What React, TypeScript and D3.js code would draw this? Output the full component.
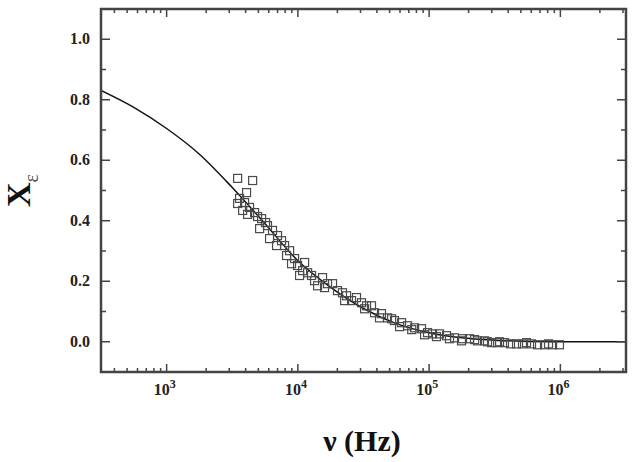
import React from 'react';
import * as d3 from 'd3';

// Measured points: frequency (Hz) and susceptibility
const FREQ = [
  3475, 4520, 4065, 3595, 3475, 3925, 4285, 4680, 4930, 5290, 5110, 5870, 6410, 7000, 6880,
  7920, 8650, 8200, 8950, 9950, 10870, 11860, 12710, 13400, 15420, 16830, 18370, 20050, 23500,
  25640, 30560, 33350, 38370, 43370, 48170, 54470, 61660, 68440, 77450, 87520, 97250, 106200,
  120000, 135800, 156100, 179600, 203100, 233800, 264300, 298800, 332100, 375300, 417000,
  463500, 514600, 602900, 669800, 757300, 871600, 984000,
  3795, 4140, 5670, 6085, 7510, 9440, 11250, 10300, 14130, 15970, 21870, 27980, 22710, 32230,
  36390, 41870, 51760, 59580, 73700, 92300, 113800, 143000, 176500, 221900, 278500, 343800,
  552000, 812000,
];
const CHI = [
  0.54, 0.533, 0.493, 0.474, 0.457, 0.46, 0.444, 0.427, 0.414, 0.407, 0.374, 0.384, 0.368, 0.351,
  0.318, 0.318, 0.301, 0.285, 0.258, 0.252, 0.235, 0.228, 0.219, 0.202, 0.212, 0.192, 0.192,
  0.169, 0.152, 0.136, 0.129, 0.119, 0.096, 0.093, 0.079, 0.07, 0.063, 0.053, 0.046, 0.043,
  0.03, 0.026, 0.026, 0.02, 0.013, 0.01, 0.01, 0.003, 0.003, -0.003, -0.003, -0.003, -0.007,
  -0.007, -0.007, -0.007, -0.01, -0.01, -0.01, -0.01,
  0.434, 0.421, 0.394, 0.341, 0.334, 0.275, 0.262, 0.219, 0.185, 0.179, 0.162, 0.146, 0.136,
  0.109, 0.119, 0.079, 0.076, 0.05, 0.04, 0.023, 0.017, 0.01, 0.003, 0.007, 0.0, 0.0,
  -0.003, -0.007,
];

// Fitted curve, sampled every quarter decade
const FIT_FREQ = [316, 562, 1000, 1778, 3162, 5623, 10000, 17783, 31623, 56234, 100000, 177828, 316228, 562341, 1000000, 3162278];
const FIT_CHI = [0.831, 0.775, 0.705, 0.62, 0.51, 0.39, 0.268, 0.18, 0.11, 0.06, 0.03, 0.013, 0.005, 0.001, 0, 0];

const Y_LABELS = [0, 0.2, 0.4, 0.6, 0.8, 1.0];
const Y_MINOR = [-0.1, 0.1, 0.3, 0.5, 0.7, 0.9, 1.1];
const X_EXPONENTS = [3, 4, 5, 6];

const W = 643;
const H = 462;
const margin = { left: 101, right: 17, top: 9, bottom: 90 };
const FONT = "'Liberation Serif', 'Times New Roman', serif";

export default function App() {
  const x = d3.scaleLog().domain([Math.pow(10, 2.5), Math.pow(10, 6.5)]).range([margin.left, W - margin.right]);
  const y = d3.scaleLinear().domain([-0.1, 1.1]).range([H - margin.bottom, margin.top]);
  const [x0, x1] = x.range();
  const [yb, yt] = y.range();

  const majorX = X_EXPONENTS.map((e) => Math.pow(10, e));
  const minorX: number[] = [];
  for (let e = 2; e <= 6; e++) {
    for (let m = 2; m <= 9; m++) {
      const v = m * Math.pow(10, e);
      if (v > x.domain()[0] && v < x.domain()[1]) minorX.push(v);
    }
  }

  const line = d3
    .line<number>()
    .x((_, i) => x(FIT_FREQ[i]))
    .y((d) => y(d))
    .curve(d3.curveMonotoneX);

  const axisColor = '#444';

  return (
    <svg width={W} height={H} style={{ position: 'absolute', left: 0, top: 0, background: '#fff' }}>
      <defs>
        <clipPath id="plot">
          <rect x={x0} y={yt} width={x1 - x0} height={yb - yt} />
        </clipPath>
      </defs>

      {/* fit line */}
      <path d={line(FIT_CHI) || ''} fill="none" stroke="#111" strokeWidth={1.5} clipPath="url(#plot)" />

      {/* data squares */}
      <g fill="none" stroke="#4a4a4a" strokeWidth={1.2}>
        {FREQ.map((f, i) => (
          <rect key={i} x={x(f) - 4} y={y(CHI[i]) - 4} width={8} height={8} />
        ))}
      </g>

      {/* ticks on all four sides, pointing inward */}
      <g stroke={axisColor} strokeWidth={1.5}>
        {Y_LABELS.map((v) => (
          <g key={'ym' + v}>
            <line x1={x0} x2={x0 + 9} y1={y(v)} y2={y(v)} />
            <line x1={x1} x2={x1 - 9} y1={y(v)} y2={y(v)} />
          </g>
        ))}
        {Y_MINOR.map((v) => (
          <g key={'yn' + v}>
            <line x1={x0} x2={x0 + 5} y1={y(v)} y2={y(v)} />
            <line x1={x1} x2={x1 - 5} y1={y(v)} y2={y(v)} />
          </g>
        ))}
        {majorX.map((v) => (
          <g key={'xm' + v}>
            <line x1={x(v)} x2={x(v)} y1={yb} y2={yb - 8} />
            <line x1={x(v)} x2={x(v)} y1={yt} y2={yt + 8} />
          </g>
        ))}
        {minorX.map((v) => (
          <g key={'xn' + v}>
            <line x1={x(v)} x2={x(v)} y1={yb} y2={yb - 4} />
            <line x1={x(v)} x2={x(v)} y1={yt} y2={yt + 4} />
          </g>
        ))}
      </g>

      {/* frame */}
      <rect x={x0} y={yt} width={x1 - x0} height={yb - yt} fill="none" stroke={axisColor} strokeWidth={2.5} />

      {/* y tick labels */}
      <g fontFamily={FONT} fontWeight="bold" fontSize={16} fill="#222" textAnchor="end">
        {Y_LABELS.map((v) => (
          <text key={v} x={x0 - 11} y={y(v) + 5}>
            {d3.format('.1f')(v)}
          </text>
        ))}
      </g>

      {/* x tick labels */}
      <g fontFamily={FONT} fontWeight="bold" fontSize={16} fill="#222">
        {X_EXPONENTS.map((e) => (
          <text key={e} x={x(Math.pow(10, e)) - 13} y={yb + 23}>
            10
            <tspan fontSize={12} dy={-7}>
              {e}
            </tspan>
          </text>
        ))}
      </g>

      {/* axis titles */}
      <text x={362} y={451} textAnchor="middle" fontFamily={FONT} fontWeight="bold" fontSize={30} fill="#111">
        ν (Hz)
      </text>
      <text
        transform="translate(30,207) rotate(-90)"
        fontFamily={FONT}
        fontWeight="bold"
        fontSize={34}
        fill="#111"
      >
        X
        <tspan fontSize={20} fontWeight="normal" dy={8} fill="#555">
          ε
        </tspan>
      </text>
    </svg>
  );
}
